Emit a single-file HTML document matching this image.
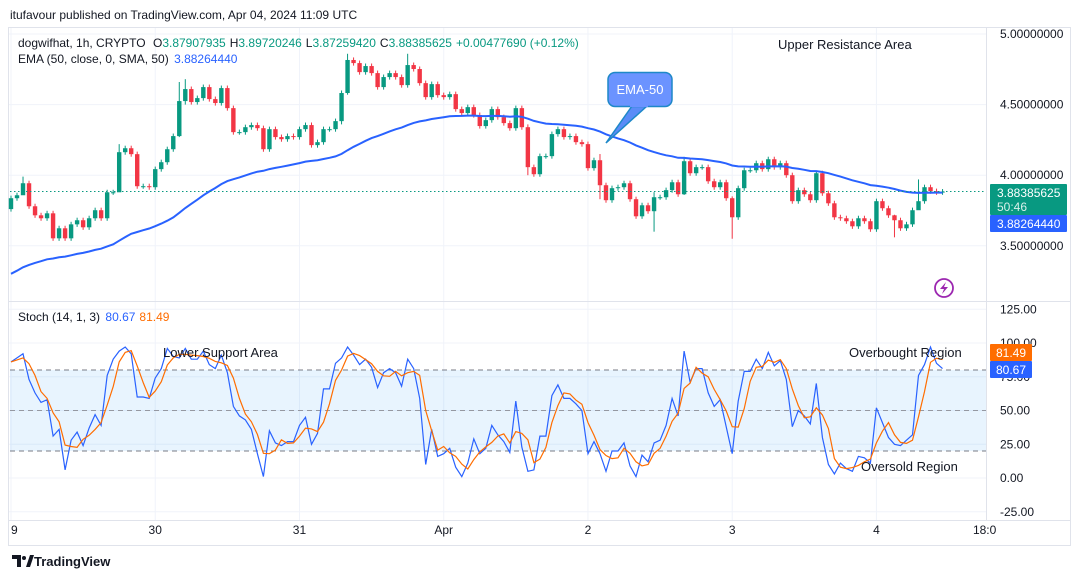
<!DOCTYPE html>
<html><head><meta charset="utf-8"><style>
body{margin:0;width:1080px;height:579px;background:#fff;overflow:hidden;font-family:"Liberation Sans",sans-serif}
svg text{font-family:"Liberation Sans",sans-serif}
</style></head><body>
<svg id="c" width="1080" height="579" viewBox="0 0 1080 579" xmlns="http://www.w3.org/2000/svg">
<text x="10" y="19" font-size="12" fill="#131722">itufavour published on TradingView.com, Apr 04, 2024 11:09 UTC</text>
<rect x="8.5" y="27.5" width="1062" height="518" fill="none" stroke="#e0e3eb"/>
<g id="grid"></g>
<rect x="10" y="370" width="976" height="81" fill="#2196f3" fill-opacity="0.1"/>
<g id="bandlines"></g>
<line x1="9" y1="301.5" x2="1070" y2="301.5" stroke="#e0e3eb"/>
<line x1="986.5" y1="28" x2="986.5" y2="520" stroke="#e0e3eb"/>
<line x1="9" y1="520.5" x2="1070" y2="520.5" stroke="#e0e3eb"/>
<g id="candles"></g>
<path id="ema" fill="none" stroke="#2962ff" stroke-width="2"/>
<line x1="10" y1="191.5" x2="986" y2="191.5" stroke="#089981" stroke-dasharray="1.5,2.5"/>
<path id="kline" fill="none" stroke="#2962ff" stroke-width="1.2"/>
<path id="dline" fill="none" stroke="#ff6d00" stroke-width="1.2"/>
<g id="axis" font-size="12" fill="#131722"></g>
<text x="18" y="47" font-size="12" fill="#131722">dogwifhat, 1h, CRYPTO <tspan dx="4">O</tspan><tspan fill="#089981">3.87907935</tspan><tspan dx="4">H</tspan><tspan fill="#089981">3.89720246</tspan><tspan dx="4">L</tspan><tspan fill="#089981">3.87259420</tspan><tspan dx="4">C</tspan><tspan fill="#089981">3.88385625</tspan><tspan dx="4" fill="#089981">+0.00477690 (+0.12%)</tspan></text>
<text x="18" y="63" font-size="12" fill="#131722">EMA (50, close, 0, SMA, 50) <tspan dx="2" fill="#2962ff">3.88264440</tspan></text>
<text x="18" y="321" font-size="12" fill="#131722">Stoch (14, 1, 3) <tspan dx="2" fill="#2962ff">80.67</tspan><tspan dx="4" fill="#ff6d00">81.49</tspan></text>
<text x="778" y="49" font-size="13" fill="#131722">Upper Resistance Area</text>
<text x="163" y="357" font-size="13" fill="#131722">Lower Support Area</text>
<text x="849" y="357" font-size="13" fill="#131722">Overbought Region</text>
<text x="861" y="471" font-size="13" fill="#131722">Oversold Region</text>
<g>
<path d="M632,106 L606,143 L647,106 Z" fill="#5b8cf7" stroke="#1e88c8" stroke-width="1.5"/>
<rect x="608" y="72.5" width="64" height="34" rx="7" fill="#6b93ff" stroke="#1e88c8" stroke-width="1.5"/>
<rect x="630" y="103" width="18" height="4" fill="#6b93ff"/>
<text x="640" y="94" font-size="13" fill="#fff" text-anchor="middle">EMA-50</text>
</g>
<g><circle cx="944" cy="288" r="9" fill="none" stroke="#9c27b0" stroke-width="1.8"/><path d="M946,282 L940,289 L944,289 L942,294 L948,287 L944,287 Z" fill="#9c27b0"/></g>
<g><rect x="990" y="184" width="77" height="31" rx="1" fill="#089981"/><text x="997" y="197" font-size="12" fill="#fff">3.88385625</text><text x="997" y="211" font-size="12" fill="#d8f0ea">50:46</text></g>
<g><rect x="990" y="215" width="77" height="17" rx="1" fill="#2962ff"/><text x="997" y="228" font-size="12" fill="#fff">3.88264440</text></g>
<g><rect x="990" y="344" width="42" height="17" rx="1" fill="#ff6d00"/><text x="996" y="357" font-size="12" fill="#fff">81.49</text></g>
<g><rect x="990" y="361" width="42" height="17" rx="1" fill="#2962ff"/><text x="996" y="374" font-size="12" fill="#fff">80.67</text></g>
<g><path d="M12,555 h9 v12 h-4 v-8 h-5 z" fill="#131722"/><circle cx="24" cy="558" r="2" fill="#131722"/><path d="M26,567 l4,-12 h4 l-4,12 z" fill="#131722"/><text x="34" y="566" font-size="13" font-weight="bold" fill="#131722">TradingView</text></g>
</svg>
<script>
const closes=[3.837,3.858,3.943,3.780,3.716,3.695,3.730,3.553,3.624,3.553,3.652,3.681,3.631,3.695,3.752,3.695,3.879,3.879,4.163,4.191,4.149,3.922,3.922,3.915,4.043,4.092,4.184,4.277,4.525,4.610,4.518,4.546,4.624,4.539,4.511,4.617,4.475,4.305,4.305,4.340,4.355,4.333,4.184,4.326,4.270,4.255,4.277,4.270,4.326,4.355,4.213,4.234,4.326,4.326,4.383,4.582,4.816,4.794,4.730,4.773,4.723,4.624,4.695,4.723,4.695,4.638,4.780,4.752,4.652,4.553,4.645,4.567,4.553,4.574,4.468,4.440,4.482,4.426,4.348,4.390,4.468,4.411,4.369,4.333,4.475,4.340,4.057,4.007,4.135,4.135,4.291,4.326,4.270,4.277,4.234,4.220,4.050,4.106,3.929,3.823,3.908,3.915,3.943,3.830,3.709,3.787,3.745,3.844,3.844,3.894,3.950,3.865,4.099,4.014,4.057,4.057,3.957,3.915,3.950,3.837,3.702,3.908,4.035,4.035,4.085,4.043,4.113,4.057,4.085,4.000,3.816,3.894,3.865,3.823,4.014,3.872,3.801,3.702,3.695,3.674,3.638,3.695,3.674,3.617,3.816,3.766,3.716,3.681,3.624,3.652,3.752,3.816,3.915,3.887,3.879,3.884];
const firstOpen=3.760;
const wickOverrides={2:[3.99,3.90],18:[4.22,3.90],28:[4.66,4.27],29:[4.68,4.50],55:[4.60,4.36],56:[4.86,4.57],66:[4.86,4.62],86:[4.36,4.00],98:[4.15,3.83],107:[3.88,3.60],112:[4.13,3.86],120:[3.85,3.55],147:[3.72,3.56],151:[3.97,3.76]};
const stochK=[86,89,92,73,63,56,58,31,36,6,28,34,24,37,47,39,76,88,94,97,92,60,60,59,74,81,96,90,89,96,88,88,94,84,81,91,78,53,46,43,36,18,1,35,26,24,27,27,39,45,25,33,66,66,85,89,97,91,84,88,82,67,78,81,78,68,88,81,59,10,36,16,18,22,8,1,11,29,18,22,39,32,27,19,57,23,5,6,31,31,61,69,59,59,55,50,18,27,18,5,20,20,26,9,1,17,12,26,28,39,59,46,94,71,81,81,63,53,58,38,18,57,79,79,88,81,93,83,87,73,38,50,46,40,70,30,10,3,11,7,5,16,15,11,52,41,30,25,24,28,32,76,84,97,85,81];
const priceTicks=[5.0,4.5,4.0,3.5];
const stochTicks=[125,100,75,50,25,0,-25];
const timeLabels=["9","30","31","Apr","2","3","4","18:0"];
const timeIdx=[0,24,48,72,96,120,144,162];
const NS="http://www.w3.org/2000/svg";
const X0=11,DX=6.01;
const xOf=i=>X0+i*DX;
const yP=p=>34+(5-p)*141.2;
const yS=v=>478-v*1.35;
function mk(tag,attrs,parent){const e=document.createElementNS(NS,tag);for(const k in attrs)e.setAttribute(k,attrs[k]);parent.appendChild(e);return e;}
const grid=document.getElementById('grid'),axis=document.getElementById('axis'),cg=document.getElementById('candles');
timeIdx.forEach((ti,j)=>{const x=xOf(ti);
 if(j<timeIdx.length-1){const l=mk('line',{x1:x,y1:28,x2:x,y2:520,stroke:'#f0f3fa'},grid);}
 const t=mk('text',{x:x,y:534,'text-anchor':j==0?'start':'middle'},axis);t.textContent=timeLabels[j];
 });
priceTicks.forEach(p=>{const y=yP(p);
 const l=mk('line',{x1:9,y1:y,x2:986,y2:y,stroke:'#f0f3fa'},grid);
 const t=mk('text',{x:1000,y:y+4},axis);t.textContent=p.toFixed(8);});
stochTicks.forEach(v=>{const y=yS(v);
 const l=mk('line',{x1:9,y1:y,x2:986,y2:y,stroke:'#f0f3fa'},grid);
 const t=mk('text',{x:1000,y:y+4},axis);t.textContent=v.toFixed(2);});
const bl=document.getElementById('bandlines');
[80,50,20].forEach(v=>{const l=mk('line',{x1:10,y1:yS(v),x2:986,y2:yS(v),stroke:v==50?'#9598a1':'#787b86','stroke-dasharray':'5,4'},bl);});
closes.forEach((c,i)=>{const o=i==0?firstOpen:closes[i-1];const up=c>=o;const col=up?'#089981':'#f23645';
 let hi=Math.max(o,c)+0.018,lo=Math.min(o,c)-0.018;if(wickOverrides[i]){hi=wickOverrides[i][0];lo=wickOverrides[i][1];}
 const x=xOf(i);
 const g=mk('g',{},cg);
 mk('line',{x1:x,y1:yP(hi),x2:x,y2:yP(lo),stroke:col,'stroke-width':1},g);
 const yt=yP(Math.max(o,c)),yb=yP(Math.min(o,c));
 mk('rect',{x:x-2.2,y:yt,width:4.4,height:Math.max(1,yb-yt),fill:col},g);});
let e=3.28,a=2/51,d='';
closes.forEach((c,i)=>{e=e+a*(c-e);d+=(i?'L':'M')+xOf(i).toFixed(1)+','+yP(e).toFixed(1);});
document.getElementById('ema').setAttribute('d',d);
let kd='',dd='';
stochK.forEach((v,i)=>{kd+=(i?'L':'M')+xOf(i).toFixed(1)+','+yS(v).toFixed(1);
 const s=stochK.slice(Math.max(0,i-2),i+1);const m=s.reduce((p,q)=>p+q,0)/s.length;
 dd+=(i?'L':'M')+xOf(i).toFixed(1)+','+yS(m).toFixed(1);});
document.getElementById('kline').setAttribute('d',kd);
document.getElementById('dline').setAttribute('d',dd);
</script>
</body></html>
